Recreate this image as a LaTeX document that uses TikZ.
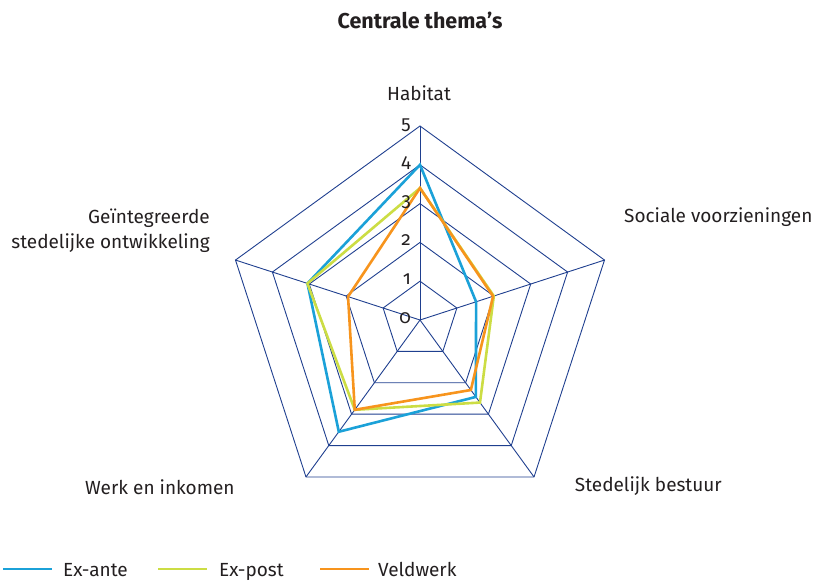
\documentclass[tikz,border=0pt]{standalone}
\usepackage{fontspec}
\setmainfont{Fira Sans}[Numbers=OldStyle]
\definecolor{gridblue}{HTML}{1F3F8F}
\definecolor{serA}{HTML}{1BA1D8}
\definecolor{serB}{HTML}{CCDD44}
\definecolor{serC}{HTML}{F7941D}
\definecolor{txt}{HTML}{231F20}
\begin{document}
\begin{tikzpicture}[x=1pt,y=1pt,
  grid/.style={draw=gridblue, line width=0.9pt, line join=miter},
  series/.style={line width=2.6pt, line join=miter},
  lbl/.style={font=\fontsize{19}{25}\selectfont, inner sep=0pt, text=txt},
  numlbl/.style={font=\fontsize{19}{20}\selectfont, inner sep=0pt, text=txt, anchor=base east},
  ttl/.style={font=\fontsize{21.5}{24}\selectfont\bfseries, inner sep=0pt, text=txt},
]
\useasboundingbox (0,-581) rectangle (814,0);
\def\u{38.8}
\begin{scope}[shift={(420,-320)}]
  \foreach \l in {1,...,5}
    \draw[grid] (90:{\l*\u}) -- (18:{\l*\u}) -- (-54:{\l*\u}) -- (-126:{\l*\u}) -- (162:{\l*\u}) -- cycle;
  \foreach \a in {90,18,-54,-126,162}
    \draw[grid] (0,0) -- (\a:{5*\u});
  \draw[series, serA] (90:{4*\u}) -- (18:{1.52*\u}) -- (-54:{2.45*\u}) -- (-126:{3.56*\u}) -- (162:{3.05*\u}) -- cycle;
  \draw[series, serB] (90:{3.4*\u}) -- (18:{2.0*\u}) -- (-54:{2.63*\u}) -- (-126:{2.86*\u}) -- (162:{3.05*\u}) -- cycle;
  \draw[series, serC] (90:{3.4*\u}) -- (18:{1.98*\u}) -- (-54:{2.23*\u}) -- (-126:{2.86*\u}) -- (162:{1.95*\u}) -- cycle;
  \foreach \l in {0,...,5}
    \node[numlbl] (n\l) at (-9,{\l*\u-3}) {\l};
\end{scope}
\node[ttl, anchor=base] (title) at (420,-28) {Centrale thema’s};
\node[lbl, anchor=base] (hab) at (419,-100) {Habitat};
\node[lbl, anchor=base west] (soc) at (624,-222) {Sociale voorzieningen};
\node[lbl, anchor=base east] (bes) at (722,-491) {Stedelijk bestuur};
\node[lbl, anchor=base west] (werk) at (85,-494) {Werk en inkomen};
\node[lbl, anchor=base east, align=right] (geint) at (210,-248) {Geïntegreerde\\stedelijke ontwikkeling};
% legend
\coordinate (la1) at (3,-569); \coordinate (la2) at (52,-569);
\coordinate (lb1) at (158,-569); \coordinate (lb2) at (207,-569);
\coordinate (lc1) at (320,-569); \coordinate (lc2) at (369,-569);
\draw[serA, line width=2.6pt] (la1) -- (la2);
\draw[serB, line width=2.6pt] (lb1) -- (lb2);
\draw[serC, line width=2.6pt] (lc1) -- (lc2);
\node[lbl, anchor=base west] (ta) at (63,-576) {Ex-ante};
\node[lbl, anchor=base west] (tb) at (219,-576) {Ex-post};
\node[lbl, anchor=base west] (tc) at (378,-576) {Veldwerk};
\end{tikzpicture}
\end{document}
